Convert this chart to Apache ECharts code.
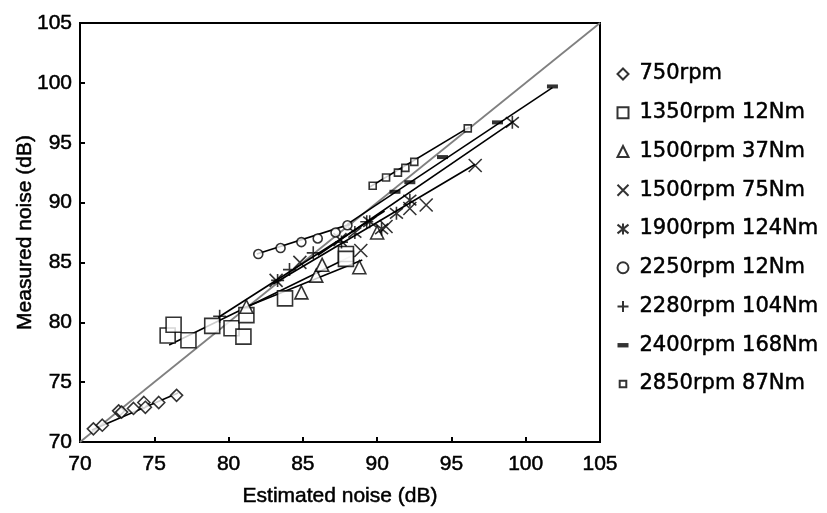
<!DOCTYPE html>
<html>
<head>
<meta charset="utf-8">
<script src="https://cdn.jsdelivr.net/npm/echarts@6/dist/echarts.min.js"></script>
<style>
  html, body { margin: 0; padding: 0; background: #fff; }
  #chart { width: 827px; height: 513px; }
</style>
</head>
<body>
<div id="chart"></div>
<script>
// tick values shared by both axes
const ticks = [70, 75, 80, 85, 90, 95, 100, 105];

// measured points, [estimated, measured] in dB
const rpm750 = [[70.9, 71.1], [71.5, 71.4], [72.6, 72.6], [72.8, 72.5], [73.6, 72.8], [74.3, 73.3], [74.4, 72.9], [75.3, 73.3], [76.5, 73.9]];
const rpm1350 = [[75.9, 78.9], [76.3, 79.8], [77.3, 78.5], [78.9, 79.7], [80.2, 79.5], [81.0, 78.8], [81.2, 80.6], [83.8, 82.0], [87.9, 85.7], [87.9, 85.3]];
const rpm1500a = [[81.2, 81.3], [84.9, 82.5], [85.9, 83.9], [86.3, 84.8], [88.8, 84.6], [90.0, 87.5]];
const rpm1500b = [[83.2, 83.5], [84.8, 85.0], [87.5, 86.9], [88.9, 86.0], [90.6, 88.0], [92.2, 89.5], [93.3, 89.8], [96.6, 93.1]];
const rpm1900 = [[88.5, 87.5], [89.5, 88.4], [90.3, 87.8], [91.3, 89.1], [92.2, 90.2], [99.1, 96.7]];
const rpm2250 = [[82.0, 85.7], [83.5, 86.2], [84.9, 86.7], [86.0, 87.0], [87.2, 87.5], [88.0, 88.1]];
const rpm2280 = [[79.4, 80.5], [83.3, 83.5], [84.1, 84.4], [85.7, 85.8], [87.6, 86.7], [89.3, 88.4]];
const rpm2400 = [[91.2, 90.9], [92.2, 91.7], [94.4, 93.8], [98.1, 96.7], [101.8, 99.7]];
const rpm2850 = [[89.7, 91.4], [90.6, 92.1], [91.4, 92.5], [91.9, 92.9], [92.5, 93.4], [96.1, 96.2]];

// fitted trend lines, start and end
const fit750 = [[70.8, 71.0], [76.6, 74.1]];
const fit1350 = [[76.0, 78.1], [88.2, 85.5]];
const fit1500a = [[81.0, 81.2], [89.0, 85.2]];
const fit1500b = [[83.0, 83.2], [96.6, 93.2]];
const fit1900 = [[86.0, 85.6], [99.2, 96.8]];
const fit2250 = [[81.9, 85.7], [88.2, 88.2]];
const fit2280 = [[79.3, 80.4], [90.5, 89.3]];
const fit2400 = [[88.0, 88.2], [101.8, 99.6]];
const fit2850 = [[89.5, 91.3], [96.2, 96.3]];
const diagonal = [[70, 70], [105, 105]];

const names = ["750rpm", "1350rpm 12Nm", "1500rpm 37Nm", "1500rpm 75Nm", "1900rpm 124Nm",
  "2250rpm 12Nm", "2280rpm 104Nm", "2400rpm 168Nm", "2850rpm 87Nm"];

const hollow = { color: "#fff", borderColor: "#000", borderWidth: 1.6 };
const stroked = { color: "none", borderColor: "#000", borderWidth: 1.6 };

const markers = [
  { data: rpm750, symbol: "diamond", symbolSize: 12, itemStyle: hollow },
  { data: rpm1350, symbol: "rect", symbolSize: 15, itemStyle: hollow },
  { data: rpm1500a, symbol: "triangle", symbolSize: 13, itemStyle: hollow },
  { data: rpm1500b, symbol: "path://M0,0L10,10M10,0L0,10", symbolSize: 13, itemStyle: stroked },
  { data: rpm1900, symbol: "path://M0,1L10,9M10,1L0,9M5,0L5,10", symbolSize: 13, itemStyle: stroked },
  { data: rpm2250, symbol: "circle", symbolSize: 9, itemStyle: hollow },
  { data: rpm2280, symbol: "path://M5,0L5,10M0,5L10,5", symbolSize: 13, itemStyle: stroked },
  { data: rpm2400, symbol: "rect", symbolSize: [11, 4], itemStyle: { color: "#000" } },
  { data: rpm2850, symbol: "rect", symbolSize: 7, itemStyle: hollow },
];
const fits = [fit750, fit1350, fit1500a, fit1500b, fit1900, fit2250, fit2280, fit2400, fit2850];

const series = [
  {
    name: "diag",
    type: "line",
    data: diagonal,
    symbol: "none",
    silent: true,
    lineStyle: { color: "#808080", width: 1.8 },
    z: 1,
  },
];
fits.forEach((f, i) => {
  series.push({
    name: "fit" + i,
    type: "line",
    data: f,
    symbol: "none",
    silent: true,
    lineStyle: { color: "#000", width: 1.6 },
    z: 2,
  });
});
markers.forEach((m, i) => {
  series.push({
    name: names[i],
    type: "scatter",
    data: m.data,
    symbol: m.symbol,
    symbolSize: m.symbolSize,
    itemStyle: m.itemStyle,
    z: 3,
  });
});

// legend icons: a short dash for 2400rpm, a smaller square for 2850rpm
const legendData = names.map((n, i) => {
  const item = { name: n };
  if (i === 7) item.icon = "path://M0,0h10v4h-10z";
  if (i === 8) item.icon = "path://M0,0M10,10M2,2h6v6h-6z";
  return item;
});

const font = "'Liberation Sans', Arial, sans-serif";
// thin outline so the text reads a little heavier, like the scan
const heavy = { textBorderColor: "#000", textBorderWidth: 0.5 };

const axisCommon = {
  type: "value",
  min: 70,
  max: 105,
  interval: 5,
  axisLine: { show: true, lineStyle: { color: "#000", width: 2 } },
  axisTick: { show: true, inside: true, length: 5, lineStyle: { color: "#000", width: 2 } },
  splitLine: { show: false },
  nameLocation: "middle",
  nameMoveOverlap: false,
  nameTextStyle: Object.assign({ color: "#000", fontSize: 21, fontFamily: font }, heavy),
};

const chart = echarts.init(document.getElementById("chart"));
chart.setOption({
  backgroundColor: "#fff",
  animation: false,
  grid: {
    left: 80,
    top: 23,
    right: 227,
    bottom: 71,
    outerBoundsMode: "none",
    show: true,
    borderColor: "#000",
    borderWidth: 2,
  },
  legend: {
    orient: "vertical",
    left: 610,
    top: 58,
    itemWidth: 11,
    itemHeight: 11,
    itemGap: 16.75,
    data: legendData,
    textStyle: Object.assign({
      color: "#000", fontSize: 21, fontFamily: "'DejaVu Sans', sans-serif",
      lineHeight: 22, padding: [0, 0, 0, 6],
    }, heavy),
  },
  xAxis: Object.assign({}, axisCommon, {
    name: "Estimated noise (dB)",
    nameGap: 44,
    axisLabel: Object.assign({
      color: "#000", fontSize: 21, fontFamily: font, margin: 12,
      formatter: (v) => (ticks.indexOf(v) >= 0 ? String(v) : ""),
    }, heavy),
  }),
  yAxis: Object.assign({}, axisCommon, {
    name: "Measured noise (dB)",
    nameGap: 44,
    axisLabel: Object.assign({
      color: "#000", fontSize: 21, fontFamily: font, margin: 8,
      formatter: (v) => (ticks.indexOf(v) >= 0 ? String(v) : ""),
    }, heavy),
  }),
  series: series,
});
</script>
</body>
</html>
